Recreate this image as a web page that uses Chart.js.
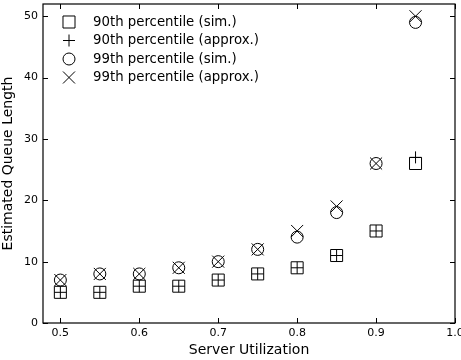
<!DOCTYPE html>
<html>
<head>
<meta charset="utf-8">
<script src="https://cdn.jsdelivr.net/npm/chart.js@4.4.1/dist/chart.umd.min.js"></script>
<style>
  html, body { margin: 0; padding: 0; background: #fff; }
  #wrap { width: 461px; height: 360px; }
</style>
</head>
<body>
<div id="wrap"><canvas id="queueChart" width="461" height="360"></canvas></div>
<script>
const utilization = [0.5, 0.55, 0.6, 0.65, 0.7, 0.75, 0.8, 0.85, 0.9, 0.95];
const p90Sim    = [5, 5, 6, 6, 7, 8, 9, 11, 15, 26];
const p90Approx = [5, 5, 6, 6, 7, 8, 9, 11, 15, 27];
const p99Sim    = [7, 8, 8, 9, 10, 12, 14, 18, 26, 49];
const p99Approx = [7, 8, 8, 9, 10, 12, 15, 19, 26, 50];
const xTicks = [0.5, 0.6, 0.7, 0.8, 0.9, 1.0];
const yTicks = [0, 10, 20, 30, 40, 50];

const FONT = 'DejaVu Sans';

function toPoints(values) {
    return utilization.map((u, i) => ({ x: u, y: values[i] }));
}

function makeSet(label, values, style, radius) {
    return {
        label: label,
        data: toPoints(values),
        pointStyle: style,
        pointRadius: radius,
        pointHoverRadius: radius,
        pointBorderColor: '#000',
        pointBackgroundColor: 'rgba(0,0,0,0)',
        pointBorderWidth: 1,
        showLine: false
    };
}

// matplotlib-style inward ticks on all four sides
const inwardTicks = {
    id: 'inwardTicks',
    afterDraw(chart) {
        const { ctx, chartArea: a, scales } = chart;
        ctx.save();
        ctx.strokeStyle = '#000';
        ctx.lineWidth = 1;
        ctx.beginPath();
        xTicks.forEach(v => {
            const px = Math.round(scales.x.getPixelForValue(v)) + 0.5;
            ctx.moveTo(px, a.bottom); ctx.lineTo(px, a.bottom - 5);
            ctx.moveTo(px, a.top); ctx.lineTo(px, a.top + 5);
        });
        yTicks.forEach(v => {
            const py = Math.round(scales.y.getPixelForValue(v)) + 0.5;
            ctx.moveTo(a.left, py); ctx.lineTo(a.left + 5, py);
            ctx.moveTo(a.right, py); ctx.lineTo(a.right - 5, py);
        });
        ctx.stroke();
        ctx.lineWidth = 1.2;
        ctx.strokeRect(a.left, a.top, a.right - a.left, a.bottom - a.top);
        ctx.restore();
    }
};

// legend drawn inside the plot, top-left, like the original
const innerLegend = {
    id: 'innerLegend',
    afterDraw(chart) {
        const { ctx, chartArea: a } = chart;
        ctx.save();
        ctx.font = '13.3px "' + FONT + '"';
        ctx.textBaseline = 'middle';
        chart.data.datasets.forEach((ds, i) => {
            const y = a.top + 18 + i * 18.5;
            const x = a.left + 26;
            ctx.strokeStyle = '#000';
            ctx.fillStyle = 'rgba(0,0,0,0)';
            ctx.lineWidth = 1;
            Chart.helpers.drawPoint(ctx, { pointStyle: ds.pointStyle, radius: ds.pointRadius, borderWidth: 1 }, x, y);
            ctx.fillStyle = '#000';
            ctx.fillText(ds.label, a.left + 50, y + 0.5);
        });
        ctx.restore();
    }
};

const ctx = document.getElementById('queueChart').getContext('2d');
new Chart(ctx, {
    type: 'scatter',
    data: {
        datasets: [
            makeSet('90th percentile (sim.)', p90Sim, 'rect', 8.5),
            makeSet('90th percentile (approx.)', p90Approx, 'cross', 6),
            makeSet('99th percentile (sim.)', p99Sim, 'circle', 6),
            makeSet('99th percentile (approx.)', p99Approx, 'crossRot', 8.5)
        ]
    },
    options: {
        responsive: false,
        animation: false,
        layout: { autoPadding: false, padding: { top: 4, right: 6, left: 0, bottom: 0 } },
        plugins: {
            legend: { display: false },
            tooltip: { enabled: false }
        },
        scales: {
            x: {
                type: 'linear',
                min: 0.478,
                max: 1.0,
                afterBuildTicks: scale => { scale.ticks = xTicks.map(v => ({ value: v })); },
                afterFit: scale => { scale.height = 37; scale.paddingRight = 0; scale.paddingLeft = 0; },
                grid: { display: false, drawTicks: false },
                border: { display: false },
                ticks: {
                    color: '#000',
                    padding: 4,
                    font: { family: FONT, size: 11 },
                    callback: v => v.toFixed(1)
                },
                title: {
                    display: true,
                    text: 'Server Utilization',
                    color: '#000',
                    font: { family: FONT, size: 14 },
                    padding: { top: 0, bottom: 1 }
                }
            },
            y: {
                type: 'linear',
                min: 0,
                max: 52,
                afterBuildTicks: scale => { scale.ticks = yTicks.map(v => ({ value: v })); },
                afterFit: scale => { scale.width = 43; scale.paddingTop = 0; scale.paddingBottom = 0; },
                grid: { display: false, drawTicks: false },
                border: { display: false },
                ticks: {
                    color: '#000',
                    padding: 5,
                    font: { family: FONT, size: 11 }
                },
                title: {
                    display: true,
                    text: 'Estimated Queue Length',
                    color: '#000',
                    font: { family: FONT, size: 14 },
                    padding: { top: 0, bottom: 2 }
                }
            }
        }
    },
    plugins: [inwardTicks, innerLegend]
});
</script>
</body>
</html>
